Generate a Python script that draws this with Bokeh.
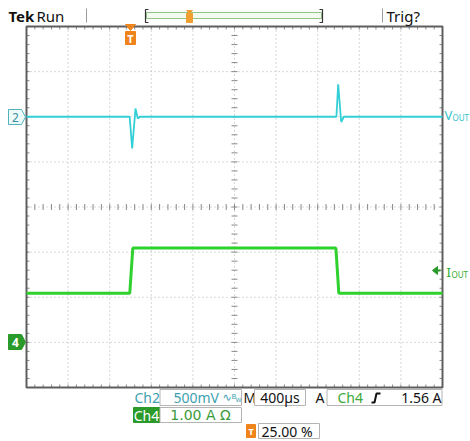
from bokeh.plotting import figure
from bokeh.models import Range1d
from bokeh.core.properties import value
from bokeh.embed import file_html
from bokeh.resources import INLINE

# Ch2 : Vout (AC deviation, mV), 500 mV/div, ground marker at +2 div
vout_t_us = [-1000, -8, 16, 48, 70, 90, 1980, 1997, 2026, 2051, 3000]
vout_mv = [0, 0, -352, 91, -20, 0, 0, 360, -58, 0, 0]
# Ch4 : Iout (A), 1 A/div, ground marker at -3 div
iout_t_us = [-1000, -7, 22, 1975, 2003, 3000]
iout_a = [1.09, 1.09, 2.09, 2.09, 1.09, 1.09]

CH2_POS, CH2_SCALE = 2, 500.0   # div, mV/div
CH4_POS, CH4_SCALE = -3, 1.0    # div, A/div
T_START, T_DIV = -1000.0, 400.0  # us, us/div (10 div)

readout_ch2 = "500mV"
readout_ch4 = "1.00 A Ω"
readout_time = "400µs"
readout_trig = "1.56 A"
readout_pos = "25.00 %"

# ---------------- geometry helpers (reference pixel -> data) ----------------
GX0, GX1, GY0, GY1 = 26, 442, 26, 387   # graticule in page pixels
PX_T = 10 * T_DIV / (GX1 - GX0)
PX_D = (GY1 - GY0) / 8.0

def X(px):
    return T_START + (px - GX0) * PX_T

def Y(py):
    return 4 - (py - GY0) / PX_D

W, H = 470, 441
p = figure(width=W, height=H, x_range=Range1d(X(0), X(W)), y_range=Range1d(Y(H), Y(0)),
           output_backend="svg", toolbar_location=None, x_axis_type=None, y_axis_type=None,
           min_border=0, title=None, outline_line_color=None, background_fill_color="white")
p.min_border_left = p.min_border_right = p.min_border_top = p.min_border_bottom = 0
p.grid.visible = False
p.extra_y_ranges = {
    "ch2": Range1d((Y(H) - CH2_POS) * CH2_SCALE, (Y(0) - CH2_POS) * CH2_SCALE),
    "ch4": Range1d((Y(H) - CH4_POS) * CH4_SCALE, (Y(0) - CH4_POS) * CH4_SCALE),
}

t_end = T_START + 10 * T_DIV
# ---------------- graticule ----------------
vx = [T_START + k * T_DIV for k in range(1, 10)]
p.segment(x0=vx, y0=[-4] * 9, x1=vx, y1=[4] * 9, line_color="#b0b0b0", line_width=1, line_dash="1 3")
hy = [j for j in range(-3, 4)]
p.segment(x0=[T_START] * 7, y0=hy, x1=[t_end] * 7, y1=hy, line_color="#b0b0b0", line_width=1, line_dash="1 3")

# minor ticks on centre lines and border
tx = [T_START + i * T_DIV / 5 for i in range(1, 50)]
ty = [-4 + j * 0.2 for j in range(1, 40)]
dt = 3 * PX_T
dd = 3 / PX_D
tc = T_START + 5 * T_DIV
p.segment(x0=tx, y0=[-dd] * len(tx), x1=tx, y1=[dd] * len(tx), line_color="#8a8a8a", line_width=1)
p.segment(x0=[tc - dt] * len(ty), y0=ty, x1=[tc + dt] * len(ty), y1=ty, line_color="#8a8a8a", line_width=1)
p.segment(x0=tx, y0=[-4] * len(tx), x1=tx, y1=[-4 + dd] * len(tx), line_color="#8a8a8a", line_width=1)
p.segment(x0=tx, y0=[4] * len(tx), x1=tx, y1=[4 - dd] * len(tx), line_color="#8a8a8a", line_width=1)
p.segment(x0=[T_START] * len(ty), y0=ty, x1=[T_START + dt] * len(ty), y1=ty, line_color="#8a8a8a", line_width=1)
p.segment(x0=[t_end] * len(ty), y0=ty, x1=[t_end - dt] * len(ty), y1=ty, line_color="#8a8a8a", line_width=1)
p.quad(left=[T_START], right=[t_end], bottom=[-4], top=[4], fill_color=None,
       line_color="#5e5e5e", line_width=2)

# ---------------- traces ----------------
p.line(iout_t_us, iout_a, y_range_name="ch4", line_color="#2ed12e", line_width=3)
p.line(vout_t_us, vout_mv, y_range_name="ch2", line_color="#33cfd6", line_width=1.8)

# ---------------- text helper ----------------
def txt(px, py, s, color="#000000", size=14, bold=False, align="left", font="Noto Sans"):
    p.text(x=[X(px)], y=[Y(py)], text=[s], text_color=color, text_font_size=f"{size}px",
           text_font=value(font), text_font_style="bold" if bold else "normal",
           text_align=align, text_baseline="middle")

def box(x0, x1, y0, y1, fill="white", line="#b4b4b4"):
    p.quad(left=[X(x0)], right=[X(x1)], top=[Y(y0)], bottom=[Y(y1)], fill_color=fill,
           line_color=line, line_width=1)

def poly(pts, fill, line=None):
    p.patch([X(a) for a, b in pts], [Y(b) for a, b in pts], fill_color=fill,
            line_color=line if line else fill, line_width=1)

def pline(pts, color, width=1):
    p.line([X(a) for a, b in pts], [Y(b) for a, b in pts], line_color=color, line_width=width)

# ---------------- header ----------------
txt(8, 15, "Tek", "#111111", 15, bold=True)
txt(36, 15, "Run", "#111111", 15)
pline([(86, 8), (86, 22)], "#9a9a9a", 1)
box(146, 321, 12, 18, fill="#f3faef", line="#93c58a")
pline([(148, 9), (145, 9), (145, 22), (148, 22)], "#333333", 1.2)
pline([(319, 9), (322, 9), (322, 22), (319, 22)], "#333333", 1.2)
poly([(186, 10), (192, 10), (189, 13)], "#f0a030")
box(186, 192, 13, 22, fill="#f0a030", line="#f0a030")
pline([(382, 8), (382, 22)], "#9a9a9a", 1)
txt(386, 15, "Trig?", "#111111", 15)

# trigger position marker at top of graticule
poly([(125, 24), (135, 24), (130, 30)], "#f0841c")
box(125, 135, 31, 44, fill="#f0841c", line="#f0841c")
txt(130, 38, "T", "#ffffff", 11, bold=True, align="center")

# channel ground markers
poly([(8, 109), (21, 109), (25, 116.5), (21, 124), (8, 124)], "#eefbfb", "#52b3bd")
txt(15, 116.5, "2", "#3a8f9c", 12, align="center")
poly([(8, 334), (21, 334), (25, 341.7), (21, 349), (8, 349)], "#2a9a2a")
txt(15, 341.7, "4", "#ffffff", 12, bold=True, align="center")

# trace labels
txt(444, 114, "V", "#33c0cc", 13)
txt(452, 117, "OUT", "#33c0cc", 8)
poly([(432, 270), (437, 266), (437, 274)], "#2a9a2a")
pline([(436, 270), (440, 270)], "#2a9a2a", 2)
txt(446, 271, "I", "#2eae2e", 13)
txt(451, 274, "OUT", "#2eae2e", 8)

# ---------------- readouts ----------------
txt(134, 397, "Ch2", "#3e9fb0", 14)
box(159.5, 241, 389, 405)
txt(173, 397, readout_ch2, "#3e9fb0", 14)
txt(222, 397, "∿", "#3e9fb0", 11, font="DejaVu Sans")
txt(231, 396, "B", "#3e9fb0", 7, font="DejaVu Sans")
txt(235, 399, "W", "#3e9fb0", 6, font="DejaVu Sans")
txt(243, 397, "M", "#111111", 14)
box(254, 305, 389, 405)
txt(279.5, 397, readout_time, "#111111", 14, align="center")
txt(315, 397, "A", "#111111", 14)
box(326.5, 441.5, 389, 405)
txt(337, 397, "Ch4", "#3aa83a", 14)
pline([(371, 402), (374, 402), (376, 393), (380, 393)], "#111111", 2)
txt(441, 397, readout_trig, "#111111", 14, align="right")

box(133, 159.5, 407, 422, fill="#2a9a2a", line="#2a9a2a")
txt(146, 414.5, "Ch4", "#ffffff", 14, align="center")
box(159.5, 241, 407, 422)
txt(200, 414.5, readout_ch4, "#3a9a3a", 14, align="center", font="DejaVu Sans")

box(246, 255, 424, 437, fill="#f0841c", line="#f0841c")
txt(250.5, 430.5, "T", "#ffffff", 9, bold=True, align="center")
box(258, 319, 423, 438)
txt(261, 431, readout_pos, "#111111", 14)

open("out.html", "w").write(file_html(p, INLINE))
